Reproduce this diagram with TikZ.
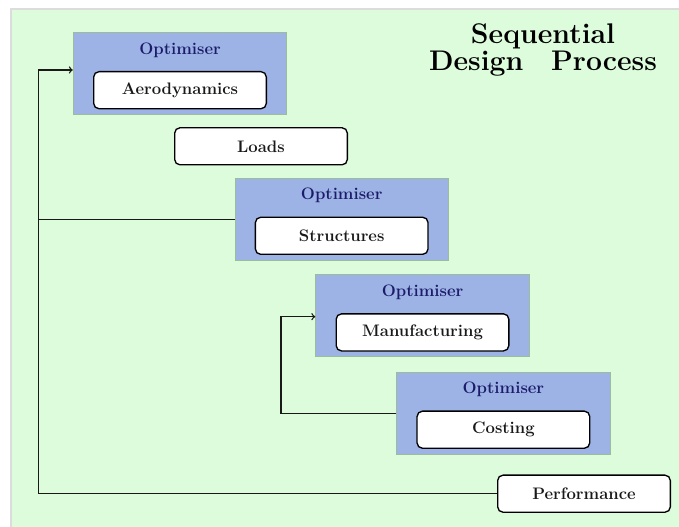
\documentclass[tikz,border=0pt]{standalone}
\usepackage{fontspec}
\usetikzlibrary{calc}
\definecolor{paneGreen}{HTML}{DDFCDC}
\definecolor{paneEdge}{HTML}{DCDCDC}
\definecolor{optFill}{HTML}{9DB3E5}
\definecolor{optEdge}{HTML}{9CBC9C}
\definecolor{optText}{HTML}{1C1C6B}
\begin{document}
\begin{tikzpicture}[x=0.75pt,y=-0.75pt,
  stage/.style={draw=black, line width=1pt, fill=white, rounded corners=4pt,
    minimum width=129.5pt, minimum height=27.8pt, inner sep=0pt,
    font=\fontsize{12.5}{15}\selectfont\bfseries, text=black!90},
  optbox/.style={draw=optEdge, line width=0.8pt, fill=optFill,
    minimum width=160pt, minimum height=61.5pt, inner sep=0pt},
  optlabel/.style={anchor=base, text=optText, inner sep=0pt,
    font=\fontsize{12.5}{15}\selectfont\bfseries},
  link/.style={draw=black!90, line width=1pt}]
  \useasboundingbox (0,0) rectangle (679,527);
  % page and pane
  \fill[white] (0,0) rectangle (679,527);
  \fill[paneGreen] (10,9) rectangle (679,527);
  \draw[paneEdge, line width=1.5pt] (10.5,527) -- (10.5,9.5) -- (679,9.5);

  % title (base anchor sits on the last line)
  \node[anchor=base, align=center, inner sep=0pt,
        font=\fontsize{21.3}{21}\selectfont\bfseries] (title) at (543,71)
        {Sequential\\[-0.4pt]Design\hspace*{20.8pt}Process};

  % optimiser frames
  \node[optbox] (o1) at (180,73.7) {};
  \node[optbox] (o2) at (341.7,219.3) {};
  \node[optbox] (o3) at (422.5,315.9) {};
  \node[optbox] (o4) at (503.4,413.2) {};
  \node[optlabel] (l1) at ($(o1.center)+(0,-19.4)$) {Optimiser};
  \node[optlabel] (l2) at ($(o2.center)+(0,-19.4)$) {Optimiser};
  \node[optlabel] (l3) at ($(o3.center)+(0,-19.4)$) {Optimiser};
  \node[optlabel] (l4) at ($(o4.center)+(0,-19.4)$) {Optimiser};

  % disciplines
  \node[stage] (aero)  at ($(o1.center)+(0,16.5)$) {Aerodynamics};
  \node[stage] (loads) at (261,146.3) {Loads};
  \node[stage] (struc) at ($(o2.center)+(0,16.5)$) {Structures};
  \node[stage] (manu)  at ($(o3.center)+(0,16.5)$) {Manufacturing};
  \node[stage] (cost)  at ($(o4.center)+(0,16.5)$) {Costing};
  \node[stage] (perf)  at (584,493.7) {Performance};

  % feedback loops
  \coordinate (railTop) at (38.7,70);
  \draw[link,->] (perf.west) -| (railTop) -- (railTop -| o1.west);
  \draw[link] (o2.west) -- (o2.west -| railTop);
  \coordinate (loopTop) at (281,316.7);
  \draw[link,->] (o4.west) -| (loopTop) -- (loopTop -| o3.west);
\end{tikzpicture}
\end{document}
